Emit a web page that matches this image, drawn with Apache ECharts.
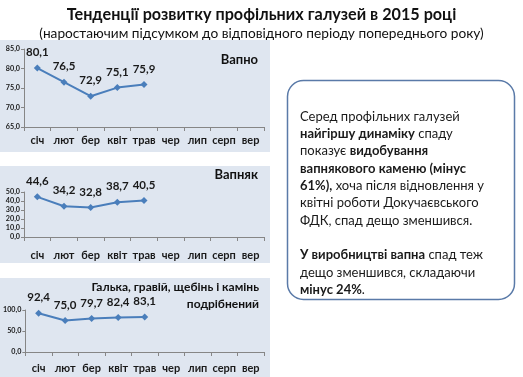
<!DOCTYPE html>
<html>
<head>
<meta charset="utf-8">
<script src="https://cdn.jsdelivr.net/npm/echarts@6/dist/echarts.min.js"></script>
<style>
  html, body { margin: 0; padding: 0; background: #fff; }
  #main { width: 523px; height: 377px; }
</style>
</head>
<body>
<div id="main"></div>
<script>
var months = ['січ', 'лют', 'бер', 'квіт', 'трав', 'чер', 'лип', 'серп', 'вер'];
var lime = [80.1, 76.5, 72.9, 75.1, 75.9];          // Вапно
var limestone = [44.6, 34.2, 32.8, 38.7, 40.5];     // Вапняк
var gravel = [92.4, 75.0, 79.7, 82.4, 83.1];        // Галька, гравій...
var panelNames = ['Вапно', 'Вапняк', 'Галька, гравій, щебінь і камінь\nподрібнений'];

var font = 'Lato, "Open Sans", sans-serif';
var blue = '#4a7ebb';
var fmt = function (v) { return v.toFixed(1).replace('.', ','); };

var chart = echarts.init(document.getElementById('main'), null, { renderer: 'canvas' });

// plot areas: top/bottom in px, label margin of the month axis
var grids = [
  { top: 49, bottom: 250, margin: 8 },
  { top: 192, bottom: 140, margin: 13 },
  { top: 310, bottom: 25, margin: 11 }
];
var yRanges = [
  { min: 65, max: 85, interval: 5 },
  { min: 0, max: 50, interval: 10 },
  { min: 0, max: 100, interval: 50 }
];
var data = [lime, limestone, gravel];

var xAxes = [], yAxes = [], series = [];
grids.forEach(function (g, i) {
  xAxes.push({
    type: 'category', gridIndex: i, data: months, boundaryGap: true,
    axisLine: { lineStyle: { color: '#868686', width: 1 } },
    axisTick: { show: true, inside: false, length: 4, interval: 0, lineStyle: { color: '#868686' } },
    axisLabel: { interval: 0, color: '#1a1a1a', fontFamily: font, fontWeight: 'bold', fontSize: 11, margin: g.margin }
  });
  yAxes.push({
    type: 'value', gridIndex: i,
    min: yRanges[i].min, max: yRanges[i].max, interval: yRanges[i].interval,
    axisLine: { show: true, lineStyle: { color: '#868686', width: 1 } },
    axisTick: { show: true, length: 3, lineStyle: { color: '#868686' } },
    splitLine: { show: false },
    axisLabel: {
      color: '#1a1a1a', fontFamily: font, fontWeight: 'bold', fontSize: 7.2, lineHeight: 5, margin: 4,
      showMinLabel: true, showMaxLabel: true, hideOverlap: false, formatter: fmt
    }
  });
  series.push({
    type: 'line', xAxisIndex: i, yAxisIndex: i, data: data[i],
    symbol: 'diamond', symbolSize: 7,
    lineStyle: { color: blue, width: 2 },
    itemStyle: { color: blue },
    label: {
      show: true, position: 'top', distance: 6,
      color: '#1a1a1a', fontFamily: font, fontWeight: 'bold', fontSize: 11.5,
      formatter: function (p) { return fmt(p.value); }
    }
  });
});

var boxText = [
  'Серед профільних галузей',
  '{b|найгіршу динаміку} спаду',
  'показує {b|видобування}',
  '{b|вапнякового каменю (мінус}',
  '{b|61%),} хоча після відновлення у',
  'квітні роботи Докучаєвського',
  'ФДК, спад дещо зменшився.',
  '',
  '{b|У виробництві вапна} спад теж',
  'дещо зменшився, складаючи',
  '{b|мінус 24%}.'
].join('\n');

chart.setOption({
  animation: false,
  title: [{
    text: 'Тенденції розвитку профільних галузей в 2015 році',
    left: 'center', top: 2,
    textStyle: { fontFamily: font, fontWeight: 'bold', fontSize: 16.2, color: '#111' }
  }, {
    text: '(наростаючим підсумком до відповідного періоду попереднього року)',
    left: 'center', top: 22,
    textStyle: { fontFamily: font, fontWeight: 'normal', fontSize: 13.7, color: '#111' }
  }],
  grid: grids.map(function (g) {
    return { left: 24, right: 259, top: g.top, bottom: g.bottom, containLabel: false };
  }),
  xAxis: xAxes,
  yAxis: yAxes,
  series: series,
  graphic: [
    { type: 'rect', z: -10, shape: { x: 0, y: 40, width: 270, height: 112 }, style: { fill: '#dfe6f0' } },
    { type: 'rect', z: -10, shape: { x: 0, y: 166, width: 270, height: 97 }, style: { fill: '#dfe6f0' } },
    { type: 'rect', z: -10, shape: { x: 0, y: 278, width: 270, height: 99 }, style: { fill: '#dfe6f0' } },
    {
      type: 'text', x: 258, y: 53,
      style: { text: panelNames[0], fontFamily: font, fontWeight: 'bold', fontSize: 13, fill: '#111', textAlign: 'right' }
    },
    {
      type: 'text', x: 258, y: 168,
      style: { text: panelNames[1], fontFamily: font, fontWeight: 'bold', fontSize: 13, fill: '#111', textAlign: 'right' }
    },
    {
      type: 'text', x: 259, y: 279,
      style: { text: panelNames[2], fontFamily: font, fontWeight: 'bold', fontSize: 12, lineHeight: 17, fill: '#111', textAlign: 'right' }
    },
    {
      type: 'rect', shape: { x: 287.5, y: 80.5, width: 227, height: 219, r: 16 },
      style: { fill: '#fff', stroke: '#5a7aa8', lineWidth: 1.5 }
    },
    {
      type: 'text', left: 300, top: 108,
      style: {
        text: boxText, fontFamily: font, fontSize: 13, lineHeight: 17.3, fill: '#1a1a1a',
        rich: { b: { fontFamily: font, fontWeight: 'bold', fontSize: 13, lineHeight: 17.3, fill: '#1a1a1a' } }
      }
    }
  ]
});
</script>
</body>
</html>
